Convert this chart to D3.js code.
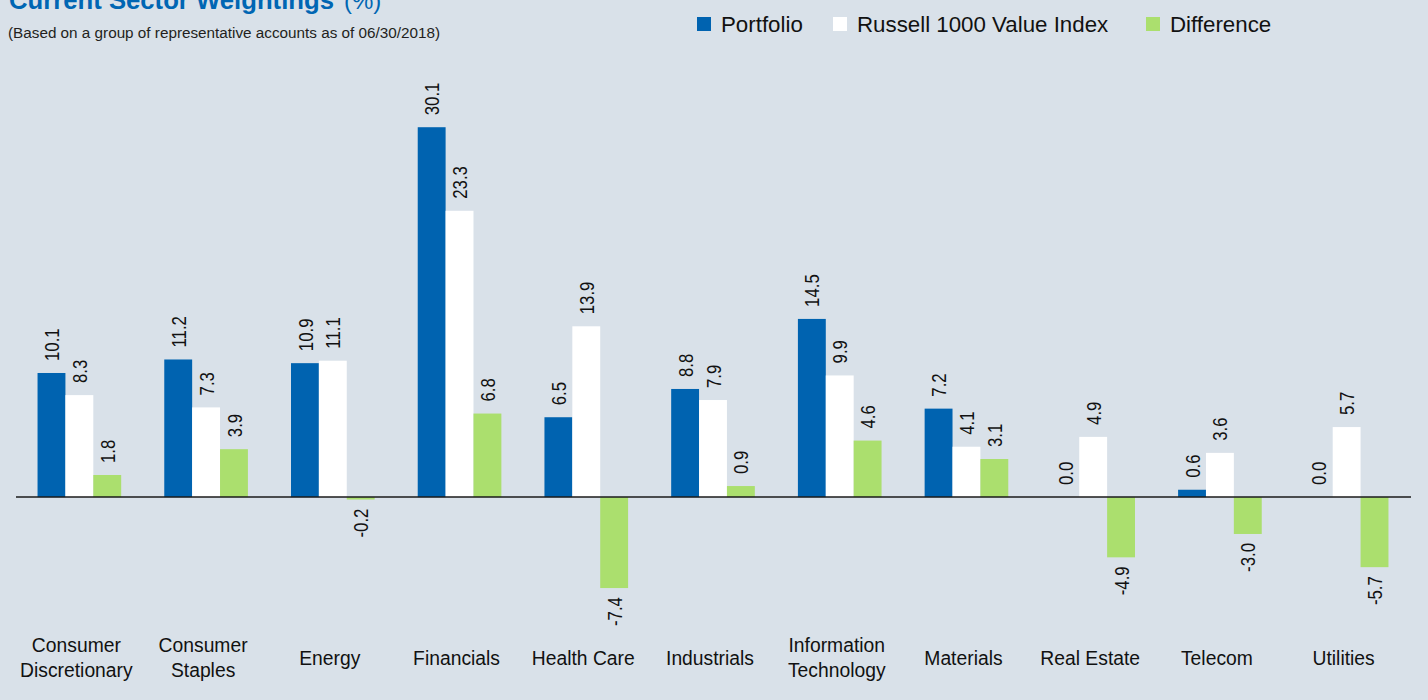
<!DOCTYPE html>
<html lang="en">
<head>
<meta charset="UTF-8">
<title>Current Sector Weightings</title>
<script src="https://cdn.jsdelivr.net/npm/d3@7/dist/d3.min.js"></script>
<style>
    body { margin: 0; background: #d9e1e9; }
    svg { display: block; }
    text { font-family: "Liberation Sans", Arial, sans-serif; fill: #111; }
</style>
</head>
<body>
<div id="chart"></div>
<script>
    // sectors and series
    var sectors = ["Consumer Discretionary", "Consumer Staples", "Energy", "Financials", "Health Care",
        "Industrials", "Information Technology", "Materials", "Real Estate", "Telecom", "Utilities"];
    var sectorLines = [["Consumer", "Discretionary"], ["Consumer", "Staples"], ["Energy"], ["Financials"],
        ["Health Care"], ["Industrials"], ["Information", "Technology"], ["Materials"], ["Real Estate"],
        ["Telecom"], ["Utilities"]];
    var seriesNames = ["Portfolio", "Russell 1000 Value Index", "Difference"];
    var portfolio = [10.1, 11.2, 10.9, 30.1, 6.5, 8.8, 14.5, 7.2, 0.0, 0.6, 0.0];
    var russell = [8.3, 7.3, 11.1, 23.3, 13.9, 7.9, 9.9, 4.1, 4.9, 3.6, 5.7];
    var difference = [1.8, 3.9, -0.2, 6.8, -7.4, 0.9, 4.6, 3.1, -4.9, -3.0, -5.7];

    var width = 1428, height = 700;
    var colors = ["#0063b0", "#ffffff", "#abdf6e"];
    var fmt = d3.formatLocale({decimal: ".", thousands: ",", grouping: [3], currency: ["", ""], minus: "-"}).format(".1f");

    var svg = d3.select("#chart").append("svg")
        .attr("width", width)
        .attr("height", height);

    svg.append("rect").attr("width", width).attr("height", height).attr("fill", "#d9e1e9");

    // title (cut at the top like the source)
    svg.append("text")
        .attr("x", 9).attr("y", 9)
        .style("font-size", "25.7px")
        .style("font-weight", "bold")
        .style("fill", "#0066b3")
        .text("Current Sector Weightings");
    svg.append("text")
        .attr("x", 344).attr("y", 9)
        .style("font-size", "24px")
        .style("fill", "#0066b3")
        .text("(%)");

    svg.append("text")
        .attr("x", 8).attr("y", 38)
        .attr("textLength", 432)
        .attr("lengthAdjust", "spacingAndGlyphs")
        .style("font-size", "15.5px")
        .style("fill", "#231f20")
        .text("(Based on a group of representative accounts as of 06/30/2018)");

    // legend
    var legendX = [697, 833, 1146];
    var legend = svg.selectAll("g.legend")
        .data(seriesNames)
        .enter().append("g")
        .attr("class", "legend")
        .attr("transform", function (d, i) { return "translate(" + legendX[i] + ",17)"; });
    legend.append("rect")
        .attr("width", 14).attr("height", 14)
        .attr("fill", function (d, i) { return colors[i]; });
    legend.append("text")
        .attr("x", 24).attr("y", 15)
        .style("font-size", "22.3px")
        .text(function (d) { return d; });

    // scales
    var x0 = d3.scaleBand()
        .domain(sectors)
        .range([16, 1410])
        .paddingInner(0.34)
        .paddingOuter(0.17);
    var x1 = d3.scaleBand()
        .domain(seriesNames)
        .range([0, x0.bandwidth()]);
    var y = d3.scaleLinear()
        .domain([-10, 35])
        .range([620, 67]);

    var rows = sectors.map(function (s, i) {
        return {sector: s, lines: sectorLines[i], values: [portfolio[i], russell[i], difference[i]]};
    });

    var groups = svg.selectAll("g.sector")
        .data(rows)
        .enter().append("g")
        .attr("class", "sector")
        .attr("transform", function (d) { return "translate(" + x0(d.sector) + ",0)"; });

    var bars = groups.selectAll("g.bar")
        .data(function (d) {
            return d.values.map(function (v, j) { return {key: seriesNames[j], value: v, j: j}; });
        })
        .enter().append("g")
        .attr("class", "bar");

    bars.append("rect")
        .attr("x", function (d) { return x1(d.key); })
        .attr("width", x1.bandwidth())
        .attr("y", function (d) { return y(Math.max(0, d.value)); })
        .attr("height", function (d) { return Math.abs(y(d.value) - y(0)); })
        .attr("fill", function (d) { return colors[d.j]; });

    // value labels, rotated and narrowed
    bars.append("text")
        .attr("transform", function (d) {
            var cx = x1(d.key) + x1.bandwidth() / 2;
            var ty = d.value >= 0 ? y(d.value) - 12 : y(d.value) + 9;
            return "translate(" + cx + "," + ty + ") rotate(-90) scale(0.8,1)";
        })
        .attr("dy", "0.36em")
        .attr("text-anchor", function (d) { return d.value >= 0 ? "start" : "end"; })
        .style("font-size", "21px")
        .text(function (d) { return fmt(d.value); });

    // zero line
    svg.append("line")
        .attr("x1", 16).attr("x2", 1411)
        .attr("y1", y(0)).attr("y2", y(0))
        .attr("stroke", "#1a1a1a")
        .attr("stroke-width", 1.5);

    // category labels
    groups.append("text")
        .attr("text-anchor", "middle")
        .attr("transform", "translate(" + (x0.bandwidth() / 2 - 3) + ",0) scale(0.92,1)")
        .style("font-size", "21px")
        .each(function (d) {
            var t = d3.select(this);
            var startY = d.lines.length > 1 ? 652 : 665;
            d.lines.forEach(function (line, k) {
                t.append("tspan")
                    .attr("x", 0)
                    .attr("y", startY + k * 25)
                    .text(line);
            });
        });
</script>
</body>
</html>
